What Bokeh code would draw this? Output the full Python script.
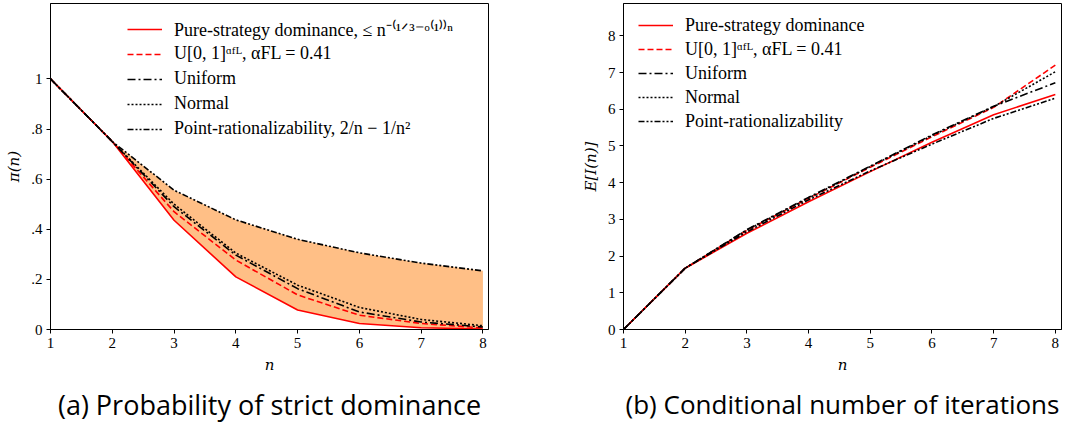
from bokeh.plotting import figure
from bokeh.layouts import row
from bokeh.models import Legend, LegendItem, FixedTicker, Title, Range1d
from bokeh.embed import file_html
from bokeh.resources import INLINE

# ---------------- data ----------------
n = [1, 2, 3, 4, 5, 6, 7, 8]

# (a) probability of strict dominance pi(n)
pi_pure = [1.0, 0.75, 0.436, 0.21, 0.078, 0.024, 0.007, 0.002]
pi_ualpha = [1.0, 0.75, 0.47, 0.277, 0.138, 0.057, 0.024, 0.006]
pi_uniform = [1.0, 0.75, 0.49, 0.297, 0.163, 0.07, 0.03, 0.01]
pi_normal = [1.0, 0.75, 0.50, 0.305, 0.177, 0.088, 0.04, 0.015]
pi_point = [1.0, 0.75, 0.556, 0.4375, 0.36, 0.306, 0.265, 0.234]

# (b) conditional number of iterations E[I(n)]
e_pure = [0.0, 1.67, 2.62, 3.48, 4.30, 5.10, 5.85, 6.40]
e_ualpha = [0.0, 1.67, 2.70, 3.57, 4.42, 5.25, 6.05, 7.20]
e_uniform = [0.0, 1.67, 2.72, 3.60, 4.45, 5.30, 6.08, 6.72]
e_normal = [0.0, 1.67, 2.71, 3.58, 4.44, 5.28, 6.07, 7.02]
e_point = [0.0, 1.67, 2.66, 3.53, 4.32, 5.05, 5.75, 6.30]

left_y_ticks = [0, 0.2, 0.4, 0.6, 0.8, 1.0]
left_y_labels = ["0", ".2", ".4", ".6", ".8", "1"]
right_y_ticks = [0, 1, 2, 3, 4, 5, 6, 7, 8]
x_ticks = [1, 2, 3, 4, 5, 6, 7, 8]

labels_a = [
    "Pure-strategy dominance, \u2264 n\u207b\u207d\u00b9\u141f\u00b3\u207b\u1d52\u207d\u00b9\u207e\u207e\u207f",
    "U[0, 1]\u1d45\u1da0\u1d38, \u03b1FL = 0.41",
    "Uniform",
    "Normal",
    "Point-rationalizability, 2/n \u2212 1/n\u00b2",
]
labels_b = [
    "Pure-strategy dominance",
    "U[0, 1]\u1d45\u1da0\u1d38, \u03b1FL = 0.41",
    "Uniform",
    "Normal",
    "Point-rationalizability",
]
caption_a = "(a) Probability of strict dominance"
caption_b = "(b) Conditional number of iterations"

SERIF = "Liberation Serif"
AXFONT = "DejaVu Serif"
CAPFONT = "Open Sans"
styles = [
    dict(line_color="#ff0000", line_dash="solid"),
    dict(line_color="#ff0000", line_dash="6 3"),
    dict(line_color="black", line_dash="8 3 2 3"),
    dict(line_color="black", line_dash="2 2"),
    dict(line_color="black", line_dash="6 2 2 2 2 2"),
]


def style_axes(p):
    for ax in (p.xaxis[0], p.yaxis[0]):
        ax.axis_line_color = "black"
        ax.axis_line_width = 1
        ax.major_tick_line_color = "black"
        ax.major_tick_out = 4
        ax.major_tick_in = 0
        ax.minor_tick_line_color = None
        ax.major_label_text_font = SERIF
        ax.major_label_text_font_size = "15px"
        ax.major_label_text_color = "black"
        ax.major_label_standoff = 4
        ax.axis_label_text_font = AXFONT
        ax.axis_label_text_font_style = "italic"
        ax.axis_label_text_font_size = "15px"
        ax.axis_label_text_color = "black"
        ax.axis_label_standoff = 5
    p.xaxis[0].ticker = FixedTicker(ticks=x_ticks)
    p.xgrid.visible = False
    p.ygrid.visible = False
    p.outline_line_color = "black"
    p.outline_line_width = 1
    p.background_fill_color = "white"
    p.border_fill_color = "white"


def make_legend(p, renderers, labels, loc, lh):
    items = [LegendItem(label=l, renderers=[r]) for l, r in zip(labels, renderers)]
    leg = Legend(items=items, location=loc)
    leg.border_line_color = None
    leg.background_fill_alpha = 0
    leg.label_text_font = SERIF
    leg.label_text_font_size = "18px"
    leg.label_text_color = "black"
    leg.glyph_width = 35
    leg.glyph_height = 20
    leg.label_height = lh
    leg.label_standoff = 12
    leg.spacing = 0
    leg.padding = 0
    leg.margin = 0
    p.add_layout(leg)


# ---------------- panel (a) ----------------
p1 = figure(width=540, height=431, x_range=Range1d(1, 8.09), y_range=Range1d(0, 1.301),
            output_backend="svg", toolbar_location=None,
            min_border_left=50, min_border_right=52, min_border_top=3, min_border_bottom=102)
style_axes(p1)
p1.yaxis[0].ticker = FixedTicker(ticks=left_y_ticks)
p1.yaxis[0].major_label_overrides = {t: s for t, s in zip(left_y_ticks, left_y_labels)}
p1.xaxis[0].axis_label = "n"
p1.yaxis[0].axis_label = "\u03c0(n)"

p1.varea(x=n, y1=pi_pure, y2=pi_point, fill_color="#ffbf86", fill_alpha=1.0)
rs1 = []
for ys, st in zip([pi_pure, pi_ualpha, pi_uniform, pi_normal, pi_point], styles):
    rs1.append(p1.line(n, ys, line_width=1.6, **st))
make_legend(p1, rs1, labels_a, (77, 188), 25)
t1 = Title(text=caption_a, align="center", text_font=CAPFONT, text_font_size="27px",
           text_font_style="normal", text_color="black", standoff=15)
p1.add_layout(t1, "below")

# ---------------- panel (b) ----------------
p2 = figure(width=526, height=431, x_range=Range1d(1, 8.1), y_range=Range1d(0, 8.88),
            output_backend="svg", toolbar_location=None,
            min_border_left=83, min_border_right=5, min_border_top=3, min_border_bottom=102)
style_axes(p2)
p2.yaxis[0].ticker = FixedTicker(ticks=right_y_ticks)
p2.xaxis[0].axis_label = "n"
p2.yaxis[0].axis_label = "E[I(n)]"
rs2 = []
for ys, st in zip([e_pure, e_ualpha, e_uniform, e_normal, e_point], styles):
    rs2.append(p2.line(n, ys, line_width=1.6, **st))
make_legend(p2, rs2, labels_b, (15, 196), 24)
t2 = Title(text=caption_b, align="center", text_font=CAPFONT, text_font_size="26px",
           text_font_style="normal", text_color="black", standoff=15)
p2.add_layout(t2, "below")

layout = row(p1, p2, spacing=0)
open("out.html", "w").write(file_html(layout, INLINE))
